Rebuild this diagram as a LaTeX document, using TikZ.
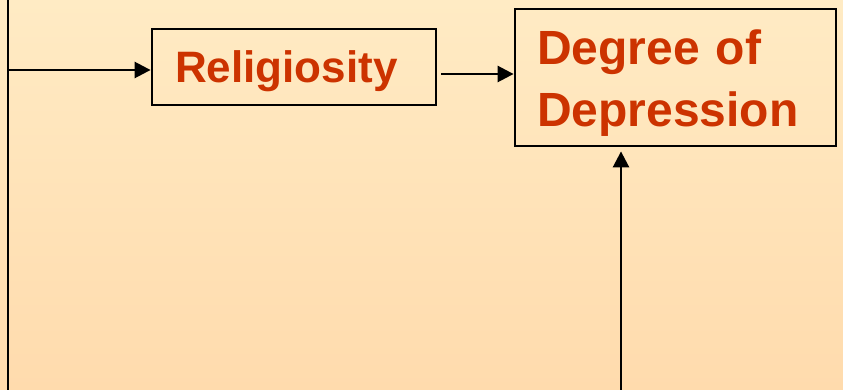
\documentclass[tikz,border=0pt]{standalone}
\usepackage{fontspec}
\setmainfont{Liberation Sans}
\usetikzlibrary{arrows.meta}
\definecolor{bgtop}{HTML}{FFEBC4}
\definecolor{bgbot}{HTML}{FFDBAD}
\definecolor{rust}{HTML}{CC3300}
\tikzset{
	box/.style={draw=black,line width=2.8pt,text=rust,align=left,inner sep=0pt},
	link/.style={line width=2.6pt,-{Triangle[length=16pt,width=16pt]}}
}
\begin{document}
\begin{tikzpicture}[x=1pt,y=-1pt]
	% Background
	\fill[top color=bgtop,bottom color=bgbot] (0,0) rectangle (843,390);
	\useasboundingbox (0,0) rectangle (843,390);
	% Boxes
	\node[box,minimum width=284pt,minimum height=76pt,text width=238pt,text height=32pt,text depth=0pt,font=\fontsize{44}{52}\bfseries] (rel) at (294,67) {Religiosity};
	\node[box,minimum width=321pt,minimum height=137pt,text width=277pt,text height=40pt,text depth=65pt,font=\fontsize{48}{62}\bfseries] (dep) at (675.5,77.5) {Degree of\\Depression};
	% Lines
	\coordinate (top) at (8,0);
	\coordinate (bot) at (8,390);
	\coordinate (jn) at (8,70);
	\coordinate (mid) at ([xshift=4pt,yshift=-7pt]rel.east);
	\coordinate (foot) at (621,390);
	\draw[line width=2.6pt] (top) -- (bot);
	%Arrows
	\draw[link] (jn) -- (jn -| rel.west);
	\draw[link] (mid) -- (mid -| dep.west);
	\draw[link] (foot) -- ([yshift=-4pt]foot |- dep.south);
\end{tikzpicture}
\end{document}
